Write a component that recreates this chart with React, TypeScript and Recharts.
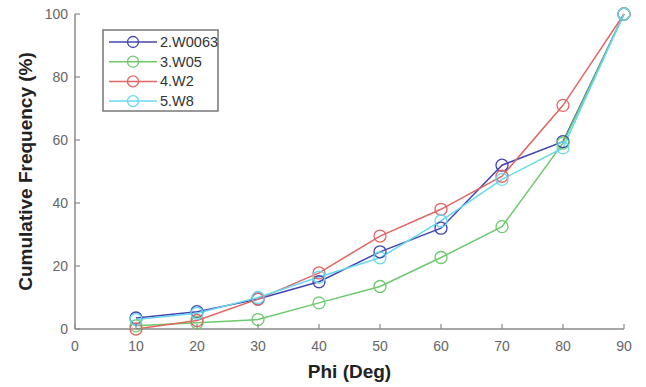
import React from 'react';
import { LineChart, Line, XAxis, YAxis } from 'recharts';

const phi = [10, 20, 30, 40, 50, 60, 70, 80, 90];
const w0063 = [3.5, 5.5, 9.5, 15, 24.5, 32, 52, 59.5, 100];
const w05 = [1, 2, 3, 8.3, 13.5, 22.7, 32.5, 59, 100];
const w2 = [0, 2.7, 9.5, 17.8, 29.5, 38, 48.5, 71, 100];
const w8 = [3, 5, 10, 16.5, 22.6, 34.3, 47.5, 57.5, 100];

const xTicks = [0, 10, 20, 30, 40, 50, 60, 70, 80, 90];
const yTicks = [0, 20, 40, 60, 80, 100];

const seriesNames = ['2.W0063', '3.W05', '4.W2', '5.W8'];
const seriesKeys = ['w0063', 'w05', 'w2', 'w8'];
const seriesColors = ['#4444b0', '#6cc96c', '#e06662', '#66d8ef'];

const data = phi.map((p, i) => ({
  phi: p,
  w0063: w0063[i],
  w05: w05[i],
  w2: w2[i],
  w8: w8[i],
}));

const AXIS = '#8a8a8a';
const TICK_TXT = '#666';
const FONT = 'Liberation Sans, Arial, sans-serif';

const BottomTick = (props: any) => {
  const { x, y, payload } = props;
  return (
    <g>
      <line x1={x} x2={x} y1={y} y2={y - 5} stroke={AXIS} strokeWidth={1.2} />
      <text x={x} y={y + 22} textAnchor="middle" fill={TICK_TXT} fontSize={14} fontFamily={FONT}>
        {payload.value}
      </text>
    </g>
  );
};

const TopTick = (props: any) => {
  const { x, y } = props;
  return <line x1={x} x2={x} y1={y} y2={y + 5} stroke={AXIS} strokeWidth={1.2} />;
};

const LeftTick = (props: any) => {
  const { x, y, payload } = props;
  return (
    <g>
      <line x1={x} x2={x + 5} y1={y} y2={y} stroke={AXIS} strokeWidth={1.2} />
      <text x={x - 7} y={y + 5} textAnchor="end" fill={TICK_TXT} fontSize={14} fontFamily={FONT}>
        {payload.value}
      </text>
    </g>
  );
};

const RightTick = (props: any) => {
  const { x, y } = props;
  return <line x1={x} x2={x - 5} y1={y} y2={y} stroke={AXIS} strokeWidth={1.2} />;
};

const LegendBox = () => (
  <svg width={118} height={84} style={{ display: 'block' }}>
    <rect x={1} y={1} width={115} height={81} fill="#fff" stroke="#777" strokeWidth={1.5} />
    {seriesNames.map((n, i) => {
      const cy = 13 + i * 19.7;
      return (
        <g key={n}>
          <line x1={7} x2={55} y1={cy} y2={cy} stroke={seriesColors[i]} strokeWidth={1.5} />
          <circle cx={31} cy={cy} r={5.5} fill="none" stroke={seriesColors[i]} strokeWidth={1.3} />
          <text x={58} y={cy + 5} fontSize={14.5} fill="#333" fontFamily={FONT}>
            {n}
          </text>
        </g>
      );
    })}
  </svg>
);

export default function App() {
  return (
    <div style={{ position: 'absolute', left: 0, top: 0, width: 646, height: 387, background: '#fff' }}>
      <LineChart width={646} height={387} data={data} margin={{ top: 14, right: 22, bottom: 28, left: 35 }}>
        <XAxis
          xAxisId="b"
          dataKey="phi"
          type="number"
          domain={[0, 90]}
          ticks={xTicks}
          height={30}
          tickSize={0}
          tickMargin={0}
          tickLine={false}
          axisLine={{ stroke: AXIS, strokeWidth: 1.5 }}
          tick={<BottomTick />}
          interval={0}
          label={(p: any) => {
            const vb = p.viewBox;
            return (
              <text x={vb.x + vb.width / 2} y={378} textAnchor="middle" fontSize={19} fontWeight="bold" fill="#222" fontFamily={FONT}>
                Phi (Deg)
              </text>
            );
          }}
        />
        <XAxis
          xAxisId="t"
          dataKey="phi"
          type="number"
          orientation="top"
          domain={[0, 90]}
          ticks={xTicks}
          height={0}
          tickSize={0}
          tickMargin={0}
          tickLine={false}
          axisLine={{ stroke: AXIS, strokeWidth: 1.5 }}
          tick={<TopTick />}
          interval={0}
        />
        <YAxis
          yAxisId="l"
          type="number"
          domain={[0, 100]}
          ticks={yTicks}
          width={40}
          tickSize={0}
          tickMargin={0}
          tickLine={false}
          axisLine={{ stroke: AXIS, strokeWidth: 1.5 }}
          tick={<LeftTick />}
          interval={0}
          label={(p: any) => {
            const vb = p.viewBox;
            const cy = vb.y + vb.height / 2;
            return (
              <text x={32} y={cy} transform={`rotate(-90, 32, ${cy})`} textAnchor="middle" fontSize={19} fontWeight="bold" fill="#222" fontFamily={FONT}>
                Cumulative Frequency (%)
              </text>
            );
          }}
        />
        <YAxis
          yAxisId="r"
          orientation="right"
          type="number"
          domain={[0, 100]}
          ticks={yTicks}
          width={0}
          tickSize={0}
          tickMargin={0}
          tickLine={false}
          axisLine={{ stroke: AXIS, strokeWidth: 1.5 }}
          tick={<RightTick />}
          interval={0}
        />
        {seriesKeys.map((k, i) => (
          <Line
            key={k}
            xAxisId="b"
            yAxisId="l"
            dataKey={k}
            name={seriesNames[i]}
            stroke={seriesColors[i]}
            strokeWidth={1.5}
            dot={{ r: 6, fill: 'none', stroke: seriesColors[i], strokeWidth: 1.3 }}
            activeDot={false}
            isAnimationActive={false}
          />
        ))}
      </LineChart>
      <div style={{ position: 'absolute', left: 102, top: 29 }}>
        <LegendBox />
      </div>
    </div>
  );
}
